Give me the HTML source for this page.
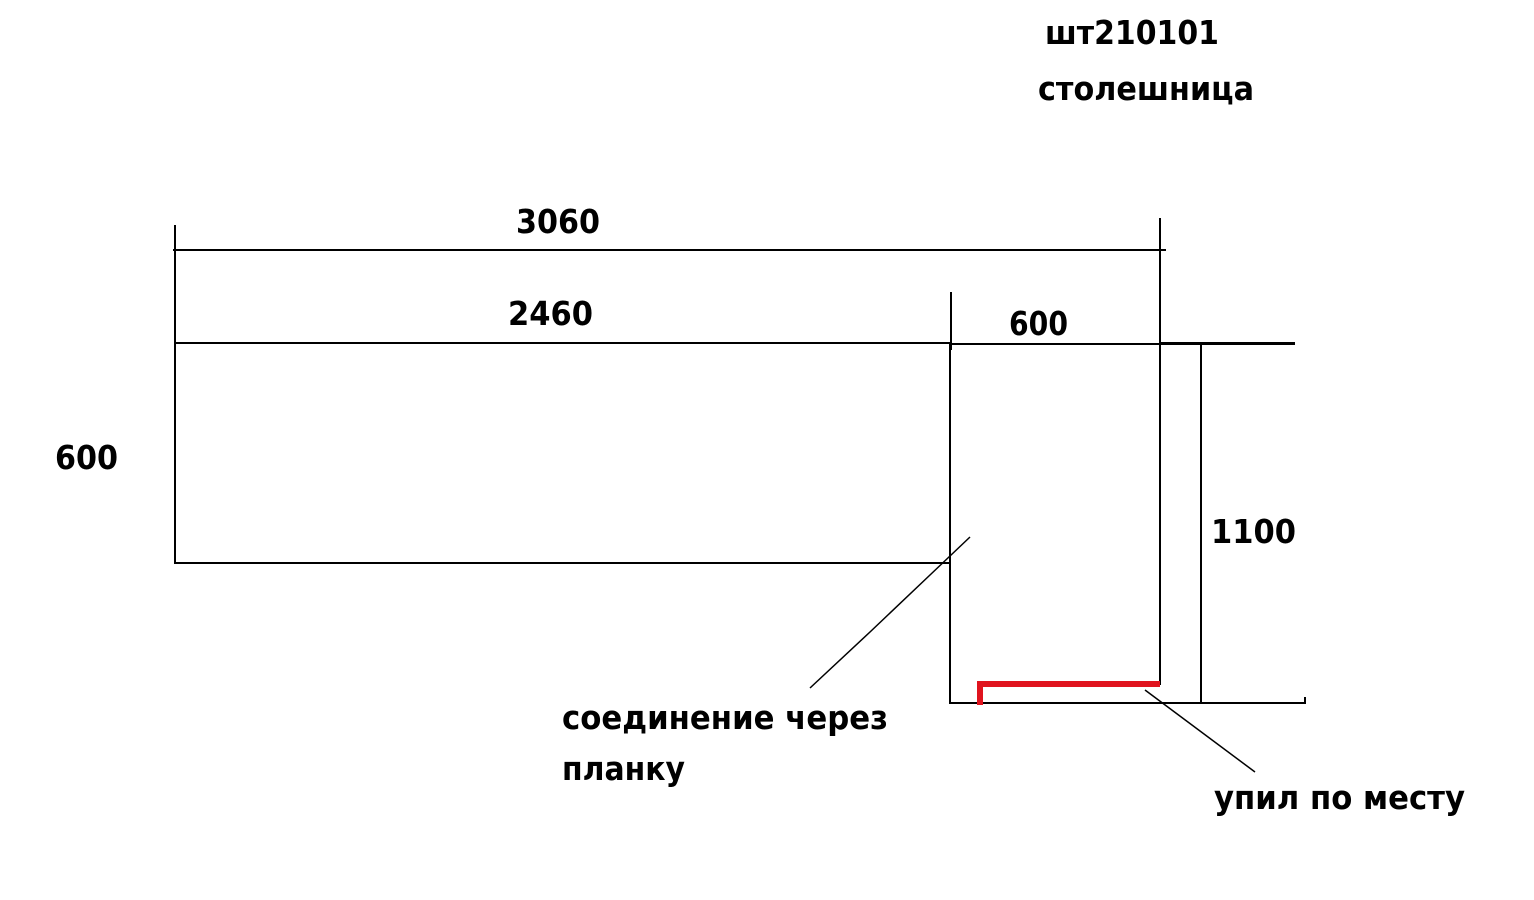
<!DOCTYPE html>
<html><head><meta charset="utf-8"><style>html,body{margin:0;padding:0;background:#fff}svg{display:block}</style></head>
<body>
<svg width="1534" height="900" viewBox="0 0 1534 900" xmlns="http://www.w3.org/2000/svg">
<g stroke="#000" stroke-width="2" fill="none">
<line x1="173" y1="250" x2="1166" y2="250"/>
<line x1="175" y1="225" x2="175" y2="564"/>
<line x1="1160" y1="218" x2="1160" y2="685"/>
<line x1="175" y1="343" x2="950" y2="343"/>
<line x1="950" y1="344" x2="1160" y2="344"/>
<line x1="951" y1="292" x2="951" y2="350"/>
<line x1="950" y1="343" x2="950" y2="704"/>
<line x1="1160" y1="343.5" x2="1295" y2="343.5" stroke-width="3"/>
<line x1="1201" y1="345" x2="1201" y2="704"/>
<line x1="949" y1="703" x2="1305" y2="703"/>
<line x1="1305" y1="697" x2="1305" y2="704"/>
<line x1="175" y1="563" x2="950" y2="563"/>
<polyline points="970,537 930,575 870,632 810,688" stroke-width="1.5"/>
<line x1="1145" y1="690" x2="1255" y2="772" stroke-width="1.5"/>
</g>
<polyline points="980,705 980,684 1160,684" stroke="#e0141e" stroke-width="6" fill="none"/>
<g font-family="'DejaVu Sans','Liberation Sans',sans-serif" font-weight="bold" font-size="33" fill="#000">
<text x="516" y="233" textLength="84" lengthAdjust="spacingAndGlyphs">3060</text>
<text x="508" y="325" textLength="85" lengthAdjust="spacingAndGlyphs">2460</text>
<text x="1009" y="335" textLength="59" lengthAdjust="spacingAndGlyphs">600</text>
<text x="55" y="469" textLength="63" lengthAdjust="spacingAndGlyphs">600</text>
<text x="1211" y="543" textLength="85" lengthAdjust="spacingAndGlyphs">1100</text>
<text x="1045" y="44" textLength="174" lengthAdjust="spacingAndGlyphs">шт210101</text>
<text x="1038" y="100" textLength="216" lengthAdjust="spacingAndGlyphs">столешница</text>
<text x="562" y="729" textLength="326" lengthAdjust="spacingAndGlyphs">соединение через</text>
<text x="562" y="780" textLength="123" lengthAdjust="spacingAndGlyphs">планку</text>
<text x="1214" y="809" textLength="251" lengthAdjust="spacingAndGlyphs">упил по месту</text>
</g>
</svg>
</body></html>
